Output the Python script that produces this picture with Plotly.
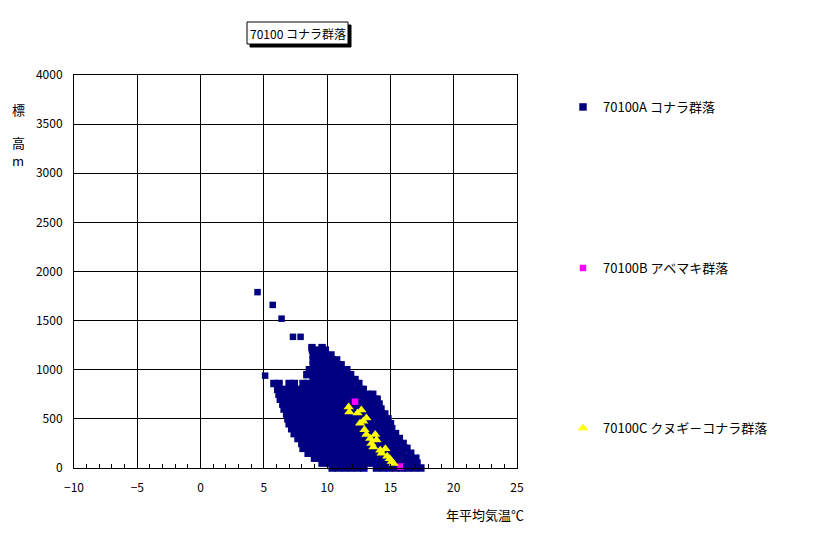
import plotly.graph_objects as go

# ---- data ----
# 70100A: dense cloud, listed row by row (elevation m, temperatures °C)
a_rows = [
    (0,    [10.4, 10.9, 11.4, 11.9, 12.4, 12.9, 13.9, 14.4, 14.9, 15.4, 15.9, 16.4, 16.9, 17.4]),
    (50,   [9.6, 10.1, 10.6, 11.1, 11.6, 12.1, 12.6, 13.1, 13.6, 14.1, 14.6, 15.1, 15.6, 16.1, 16.6, 17.1]),
    (100,  [9.0, 9.5, 10.0, 10.5, 11.0, 11.5, 12.0, 12.5, 13.0, 13.5, 14.0, 14.5, 15.0, 15.5, 16.0, 16.5, 17.0]),
    (150,  [8.5, 9.0, 9.5, 10.0, 10.5, 11.0, 11.5, 12.0, 12.5, 13.0, 13.5, 14.0, 14.5, 15.0, 15.5, 16.0, 16.6]),
    (200,  [8.1, 8.6, 9.1, 9.6, 10.1, 10.6, 11.1, 11.6, 12.1, 12.6, 13.1, 13.6, 14.1, 14.6, 15.1, 15.6, 16.1, 16.3]),
    (250,  [8.0, 8.5, 9.0, 9.5, 10.0, 10.5, 11.0, 11.5, 12.0, 12.5, 13.0, 13.5, 14.0, 14.5, 15.0, 15.5, 16.0]),
    (300,  [7.7, 8.2, 8.7, 9.2, 9.7, 10.2, 10.7, 11.2, 11.7, 12.2, 12.7, 13.2, 13.7, 14.2, 14.7, 15.2, 15.7]),
    (350,  [7.4, 7.9, 8.4, 8.9, 9.4, 9.9, 10.4, 10.9, 11.4, 11.9, 12.4, 12.9, 13.4, 13.9, 14.4, 14.9, 15.4]),
    (400,  [7.2, 7.7, 8.2, 8.7, 9.2, 9.7, 10.2, 10.7, 11.2, 11.7, 12.2, 12.7, 13.2, 13.7, 14.2, 14.7, 15.1]),
    (450,  [7.0, 7.5, 8.0, 8.5, 9.0, 9.5, 10.0, 10.5, 11.0, 11.5, 12.0, 12.5, 13.0, 13.5, 14.0, 14.5, 15.0]),
    (500,  [6.9, 7.4, 7.9, 8.4, 8.9, 9.4, 9.9, 10.4, 10.9, 11.4, 11.9, 12.4, 12.9, 13.4, 13.9, 14.4, 14.8]),
    (550,  [6.8, 7.3, 7.8, 8.3, 8.8, 9.3, 9.8, 10.3, 10.8, 11.3, 11.8, 12.3, 12.8, 13.3, 13.8, 14.3, 14.55]),
    (600,  [6.6, 7.1, 7.6, 8.1, 8.6, 9.1, 9.6, 10.1, 10.6, 11.1, 11.6, 12.1, 12.6, 13.1, 13.6, 14.1, 14.25]),
    (650,  [6.5, 7.0, 7.5, 8.0, 8.5, 9.0, 9.5, 10.0, 10.5, 11.0, 11.5, 12.0, 12.5, 13.0, 13.5, 14.0, 14.1]),
    (700,  [6.3, 6.8, 7.3, 7.8, 8.3, 8.8, 9.3, 9.8, 10.3, 10.8, 11.3, 11.8, 12.3, 12.8, 13.3, 13.8, 13.95]),
    (750,  [6.2, 6.7, 7.2, 7.7, 8.2, 8.7, 9.2, 9.7, 10.2, 10.7, 11.2, 11.7, 12.2, 12.7, 13.2, 13.6]),
    (800,  [6.1, 6.6, 7.1, 7.6, 8.1, 8.6, 9.1, 9.6, 10.1, 10.6, 11.1, 11.6, 12.1, 12.6, 12.85]),
    (860,  [5.8, 6.2, 7.0, 7.4, 8.1, 8.5, 8.9, 9.4, 9.9, 10.4, 10.9, 11.4, 11.9, 12.5]),
    (900,  [8.9, 9.4, 9.9, 10.4, 10.9, 11.4, 11.9, 12.2]),
    (950,  [8.4, 8.9, 9.4, 9.9, 10.4, 10.9, 11.4, 11.85]),
    (1000, [8.6, 9.1, 9.6, 10.1, 10.6, 11.1, 11.55]),
    (1050, [8.9, 9.4, 9.9, 10.4, 10.9, 11.1]),
    (1100, [8.9, 9.4, 9.9, 10.4, 10.75]),
    (1150, [8.9, 9.4, 9.9, 10.3]),
    (1200, [8.85, 9.35, 9.85]),
    (1225, [8.8, 9.6]),
]
a_outlier_x = [4.5, 5.7, 6.4, 7.3, 7.9, 5.1]
a_outlier_y = [1790, 1660, 1520, 1335, 1335, 940]

# 70100B
b_x = [12.2, 15.8]
b_y = [675, 15]

# 70100C
c_x = [11.7, 11.75, 12.4, 12.7, 13.1, 12.6, 12.85, 12.95, 13.1, 13.4, 13.8,
       13.5, 13.65, 13.9, 14.2, 14.3, 14.6, 14.75, 14.95, 15.1, 15.25]
c_y = [620, 570, 560, 590, 510, 455, 475, 390, 340, 300, 340,
       250, 215, 285, 180, 150, 195, 120, 95, 65, 45]

series_names = ["70100A コナラ群落", "70100B アベマキ群落", "70100C クヌギ－コナラ群落"]
chart_title = "70100 コナラ群落"
x_title = "年平均気温℃"
y_title_chars = ["標", "高", "m"]

# ---- build ----
cloud_x = [x for _, xs in a_rows for x in xs]
cloud_y = [y for y, xs in a_rows for _ in xs]
a_x = cloud_x + a_outlier_x
a_y = cloud_y + a_outlier_y
a_sizes = [7.5] * len(cloud_x) + [6.5] * len(a_outlier_x)

FONT = "MS PGothic, Noto Sans CJK JP, sans-serif"

# page coordinates of the plot area (the page body has an 8px margin)
OFF = 8
L, R, T, B = 74, 517, 75, 468
W = R - L
H = B - T
FIG_W, FIG_H = 816 - OFF, 534 - OFF


def px(xp):
    return (xp - L) / W


def py(yp):
    return (B - yp) / H


fig = go.Figure()
fig.add_trace(go.Scatter(x=a_x, y=a_y, mode="markers", name=series_names[0],
                         marker=dict(symbol="square", size=a_sizes, color="#000080", opacity=1,
                                     line_width=0),
                         legend="legend", cliponaxis=False))
fig.add_trace(go.Scatter(x=b_x, y=b_y, mode="markers", name=series_names[1],
                         marker=dict(symbol="square", size=6.5, color="#FF00FF", opacity=1,
                                     line_width=0),
                         legend="legend2", cliponaxis=False))
fig.add_trace(go.Scatter(x=c_x, y=c_y, mode="markers", name=series_names[2],
                         marker=dict(symbol="triangle-up", size=9, color="#FFFF00", opacity=1,
                                     line_width=0),
                         legend="legend3", cliponaxis=False))

leg_common = dict(font=dict(family=FONT, size=13, color="black"), bgcolor="rgba(0,0,0,0)",
                  xanchor="left", yanchor="middle", borderwidth=0, itemwidth=30)

fig.update_layout(
    width=FIG_W, height=FIG_H,
    margin=dict(l=L - OFF, r=FIG_W - (R - OFF), t=T - OFF, b=FIG_H - (B - OFF), pad=0),
    paper_bgcolor="white", plot_bgcolor="white",
    font=dict(family=FONT, size=12, color="black"),
    showlegend=True,
    legend=dict(x=px(563), y=py(107), **leg_common),
    legend2=dict(x=px(563), y=py(268), **leg_common),
    legend3=dict(x=px(563), y=py(428), **leg_common),
    xaxis=dict(range=[-10, 25], dtick=5, tick0=0, showgrid=True, gridcolor="black", gridwidth=1,
               zeroline=False, showline=True, linecolor="black", linewidth=1, mirror=True,
               ticks="inside", ticklen=4, tickcolor="black",
               minor=dict(dtick=1, ticks="inside", ticklen=4, tickcolor="black", showgrid=False),
               tickfont=dict(family=FONT, size=12, color="black"), ticklabelstandoff=9),
    yaxis=dict(range=[0, 4000], dtick=500, showgrid=True, gridcolor="black", gridwidth=1,
               zeroline=False, showline=True, linecolor="black", linewidth=1, mirror=True,
               ticks="", tickfont=dict(family=FONT, size=12, color="black"), ticklabelstandoff=8),
    yaxis2=dict(range=[0, 4000], overlaying="y", anchor="free", position=10 / 35, side="right",
                showgrid=False, zeroline=False, showline=True, linecolor="black", linewidth=1,
                ticks="outside", ticklen=4, tickcolor="black", dtick=500, showticklabels=False,
                minor=dict(dtick=100, ticks="outside", ticklen=4, tickcolor="black")),
)

# title box with drop shadow (shapes), text as annotation
box_l, box_r, box_t, box_b = 247, 348, 22, 44
shapes = [
    dict(type="rect", xref="paper", yref="paper", x0=px(box_l + 3), x1=px(box_r + 3),
         y0=py(box_b + 3), y1=py(box_t + 3), fillcolor="black", line=dict(color="black", width=1)),
    dict(type="rect", xref="paper", yref="paper", x0=px(box_l), x1=px(box_r),
         y0=py(box_b), y1=py(box_t), fillcolor="white", line=dict(color="black", width=1)),
]
fig.update_layout(shapes=shapes)

annotations = [dict(text=chart_title, x=px((box_l + box_r) / 2), y=py((box_t + box_b) / 2),
                    xref="paper", yref="paper", xanchor="center", yanchor="middle",
                    showarrow=False, font=dict(family=FONT, size=12, color="black"))]
for ch, yp in zip(y_title_chars, [110, 142, 160]):
    annotations.append(dict(text=ch, x=px(18), y=py(yp), xref="paper", yref="paper",
                            xanchor="center", yanchor="middle",
                            showarrow=False, font=dict(family=FONT, size=13, color="black")))
annotations.append(dict(text=x_title, x=px(485), y=py(514), xref="paper", yref="paper",
                        xanchor="center", yanchor="middle",
                        showarrow=False, font=dict(family=FONT, size=13, color="black")))
fig.update_layout(annotations=annotations)

fig.write_html("out.html")
